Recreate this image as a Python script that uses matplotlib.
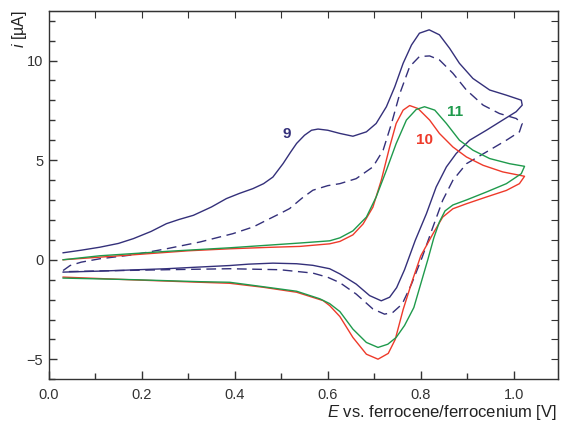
import numpy as np
import matplotlib.pyplot as plt
from matplotlib.ticker import MultipleLocator

plt.rcParams['font.family'] = ['Liberation Sans', 'DejaVu Sans']
plt.rcParams['mathtext.fontset'] = 'custom'
plt.rcParams['mathtext.it'] = 'Liberation Sans:italic'
plt.rcParams['mathtext.rm'] = 'Liberation Sans'

# compound 9, solid (full cycle)
e9 = [0.031, 0.07, 0.110, 0.15, 0.182, 0.22, 0.253, 0.28, 0.311, 0.35, 0.382, 0.41, 0.439, 0.462,
      0.482, 0.504, 0.52, 0.533, 0.55, 0.565, 0.579, 0.60, 0.626, 0.654, 0.683, 0.704, 0.726,
      0.744, 0.762, 0.780, 0.797, 0.818, 0.840, 0.862, 0.883, 0.912, 0.948, 0.984, 1.016, 1.018,
      1.005, 0.976, 0.941, 0.905, 0.876, 0.855, 0.833, 0.812, 0.788, 0.765, 0.748, 0.733, 0.715,
      0.690, 0.661, 0.626, 0.604, 0.568, 0.533, 0.482, 0.43, 0.389, 0.32, 0.253, 0.18, 0.110, 0.031]
i9 = [0.35, 0.48, 0.63, 0.82, 1.06, 1.42, 1.81, 2.02, 2.23, 2.65, 3.07, 3.33, 3.57, 3.82,
      4.15, 4.83, 5.4, 5.84, 6.25, 6.5, 6.56, 6.5, 6.34, 6.20, 6.42, 6.84, 7.68,
      8.68, 9.86, 10.78, 11.37, 11.54, 11.29, 10.61, 9.86, 9.10, 8.52, 8.26, 8.01, 7.76,
      7.43, 7.01, 6.50, 6.00, 5.33, 4.66, 3.65, 2.31, 0.97, -0.5, -1.4, -1.88, -2.06,
      -1.80, -1.22, -0.71, -0.45, -0.28, -0.20, -0.17, -0.22, -0.29, -0.37, -0.45, -0.51, -0.57, -0.62]

# compound 9, dashed
e9d = [0.031, 0.046, 0.07, 0.110, 0.182, 0.253, 0.325, 0.396, 0.44, 0.468, 0.50, 0.518, 0.545,
       0.568, 0.60, 0.626, 0.661, 0.697, 0.719, 0.737, 0.755, 0.776, 0.797, 0.819, 0.840, 0.869,
       0.898, 0.934, 0.969, 1.005, 1.018,
       1.012, 0.984, 0.941, 0.898, 0.869, 0.847, 0.826, 0.803, 0.780, 0.760, 0.740, 0.722,
       0.697, 0.661, 0.626, 0.60, 0.568, 0.497, 0.389, 0.253, 0.110, 0.031]
i9d = [-0.54, -0.29, -0.12, 0.05, 0.25, 0.55, 0.89, 1.31, 1.65, 1.98, 2.35, 2.57, 3.1,
       3.49, 3.72, 3.82, 4.07, 4.66, 5.50, 6.84, 8.35, 9.69, 10.2, 10.23, 10.03, 9.36,
       8.52, 7.76, 7.34, 7.09, 6.84,
       6.42, 6.00, 5.41, 4.82, 3.99, 2.98, 1.64, 0.13, -1.22, -2.22, -2.64, -2.73,
       -2.47, -1.72, -1.15, -0.88, -0.67, -0.50, -0.45, -0.50, -0.56, -0.60]

# compound 10
e10 = [0.031, 0.182, 0.30, 0.389, 0.47, 0.540, 0.604, 0.626, 0.654, 0.676, 0.697, 0.715, 0.733,
       0.747, 0.762, 0.776, 0.794, 0.819, 0.840, 0.869, 0.898, 0.934, 0.976, 1.023,
       1.012, 0.984, 0.941, 0.898, 0.869, 0.847, 0.826, 0.800, 0.781, 0.762, 0.745, 0.730, 0.708,
       0.683, 0.654, 0.626, 0.604, 0.590, 0.533, 0.461, 0.389, 0.325, 0.182, 0.031]
i10 = [0.0, 0.25, 0.45, 0.55, 0.62, 0.67, 0.80, 0.92, 1.25, 1.80, 2.64, 3.99, 5.66,
       6.84, 7.51, 7.74, 7.59, 7.01, 6.34, 5.66, 5.16, 4.74, 4.41, 4.19,
       3.82, 3.48, 3.15, 2.81, 2.56, 2.14, 1.30, 0.2, -1.1, -2.5, -4.0, -4.7, -4.99,
       -4.74, -3.90, -2.85, -2.3, -2.05, -1.63, -1.38, -1.18, -1.13, -1.01, -0.87]

# compound 11
e11 = [0.031, 0.110, 0.253, 0.389, 0.540, 0.604, 0.626, 0.654, 0.683, 0.704, 0.726, 0.747, 0.769,
       0.790, 0.808, 0.830, 0.855, 0.883, 0.912, 0.948, 0.991, 1.023,
       1.016, 0.984, 0.941, 0.898, 0.869, 0.852, 0.840, 0.828, 0.815, 0.800, 0.785, 0.765, 0.747,
       0.729, 0.708, 0.683, 0.654, 0.626, 0.604, 0.583, 0.533, 0.46, 0.389, 0.325, 0.182, 0.031]
i11 = [0.0, 0.2, 0.42, 0.6, 0.84, 0.95, 1.1, 1.45, 2.14, 3.15, 4.49, 5.83, 7.01,
       7.54, 7.68, 7.51, 6.84, 6.00, 5.50, 5.08, 4.82, 4.69,
       4.32, 3.82, 3.40, 3.00, 2.75, 2.45, 1.9, 1.1, 0.0, -1.2, -2.4, -3.3, -3.9,
       -4.24, -4.40, -4.15, -3.48, -2.6, -2.2, -1.96, -1.58, -1.35, -1.13, -1.10, -1.0, -0.92]

navy = '#34307a'
red = '#ee3a2a'
green = '#1f9a4c'

fig = plt.figure(figsize=(5.61, 4.23), dpi=100)
ax = fig.add_axes([0.0868, 0.1033, 0.9079, 0.8714])

ax.plot(e9, i9, color=navy, lw=1.0)
ax.plot(e9d, i9d, color=navy, lw=1.0, dashes=(7, 4))
ax.plot(e10, i10, color=red, lw=1.0)
ax.plot(e11, i11, color=green, lw=1.0)

ax.text(0.512, 6.31, '9', color=navy, fontsize=11, fontweight='bold', ha='center', va='center')
ax.text(0.808, 6.0, '10', color=red, fontsize=11, fontweight='bold', ha='center', va='center')
ax.text(0.873, 7.41, '11', color=green, fontsize=11, fontweight='bold', ha='center', va='center')

ax.set_xlim(0, 1.095)
ax.set_ylim(-6, 12.5)
ax.xaxis.set_major_locator(MultipleLocator(0.2))
ax.xaxis.set_minor_locator(MultipleLocator(0.1))
ax.yaxis.set_major_locator(MultipleLocator(5))
ax.yaxis.set_minor_locator(MultipleLocator(1))
ax.xaxis.set_major_formatter(lambda v, p: f'{v:.1f}')
ax.tick_params(which='both', direction='in', colors='#333333', labelsize=10.5, width=1.0)
ax.tick_params(which='major', length=6)
ax.tick_params(which='minor', length=4)
ax.tick_params(axis='x', pad=6)
ax.tick_params(axis='y', pad=4)
for s in ax.spines.values():
    s.set_color('#333333')
    s.set_linewidth(1.0)

# top and right: equal short ticks
top = ax.secondary_xaxis('top')
top.set_xticks(np.arange(0.1, 1.05, 0.1))
top.tick_params(direction='in', length=5, labeltop=False, colors='#333333')
top.set_xticklabels([])
right = ax.secondary_yaxis('right')
right.set_yticks(np.arange(-5, 13, 1))
right.tick_params(direction='in', length=5, labelright=False, colors='#333333')
right.set_yticklabels([])

fig.text(0.993, 0.002, r'$\mathit{E}$ vs. ferrocene/ferrocenium [V]', ha='right', va='bottom',
         fontsize=12, color='#222222')
fig.text(0.035, 0.975, r'$\mathit{i}$ [µA]', rotation=90, ha='center', va='top',
         fontsize=11.5, color='#222222')

fig.savefig('out.png', dpi=100)
